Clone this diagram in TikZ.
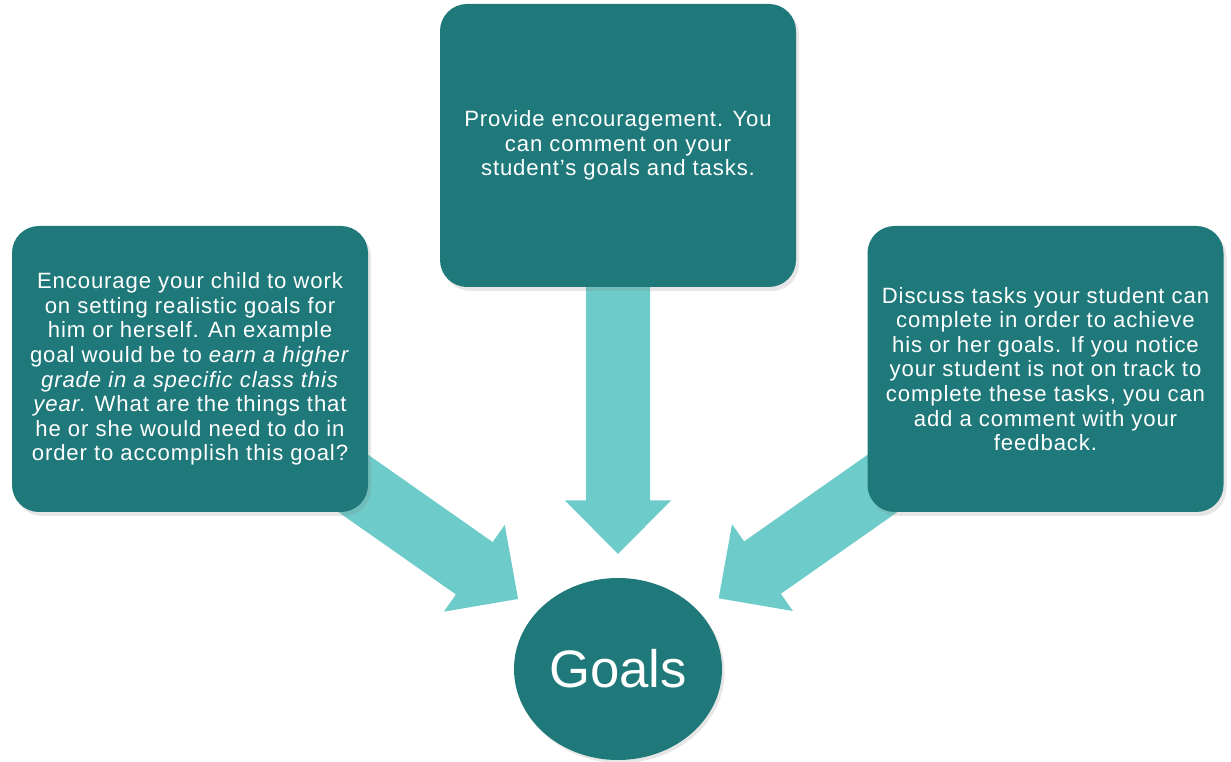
\documentclass[tikz,border=0pt]{standalone}
\usepackage{fontspec}
\setmainfont{Liberation Sans}
\newfontfamily\boxfont{Liberation Sans}[LetterSpace=4]
\usetikzlibrary{calc,shapes.geometric,shadows,backgrounds}
\definecolor{darkteal}{RGB}{31,120,121}
\definecolor{lightteal}{RGB}{109,203,202}
\begin{document}
\begin{tikzpicture}[line join=round, >=stealth,
	infobox/.style={draw=none, fill=darkteal, text=white, rounded corners=0.54cm, align=center, inner sep=0pt, minimum width=7.12cm, minimum height=5.72cm, font=\boxfont\fontsize{12.6}{14}\selectfont, drop shadow={shadow xshift=0.06cm, shadow yshift=-0.08cm, opacity=0.2}},
	goalnode/.style={ellipse, draw=none, fill=darkteal, text=white, inner sep=0pt, minimum width=4.16cm, minimum height=3.64cm, font=\fontsize{30}{34}\selectfont, drop shadow={shadow xshift=0.05cm, shadow yshift=-0.06cm, opacity=0.2}},
	arrowfill/.style={fill=lightteal}]
	\useasboundingbox (0,0) rectangle (24.62,15.24);
	\def\shaftw{0.64cm}\def\headw{1.06cm}\def\headl{1.07cm}
	\node[infobox] (lbox) at (3.80,7.86) {Encourage your child to work\\on setting realistic goals for\\him or herself. An example\\goal would be to \textit{earn a higher}\\\textit{grade in a specific class this}\\\textit{year}. What are the things that\\he or she would need to do in\\order to accomplish this goal?};
	\node[infobox, minimum height=5.66cm] (tbox) at (12.36,12.33) {Provide encouragement. You\\can comment on your\\student’s goals and tasks.};
	\node[infobox] (rbox) at (20.91,7.86) {Discuss tasks your student can\\complete in order to achieve\\his or her goals. If you notice\\your student is not on track to\\complete these tasks, you can\\add a comment with your\\feedback.};
	\node[goalnode] (goals) at (12.36,1.86) {Goals};
	\begin{scope}[on background layer]
		\foreach \src/\gap in {lbox/2.44, tbox/2.30, rbox/2.46}{
			\coordinate (tip) at ($(goals.center)!\gap cm!(\src.center)$);
			\coordinate (base) at ($(tip)!\headl!(\src.center)$);
			\fill[arrowfill] ($(\src.center)!\shaftw!90:(tip)$) -- ($(base)!\shaftw!90:(tip)$) -- ($(base)!\headw!90:(tip)$) -- (tip) -- ($(base)!\headw!-90:(tip)$) -- ($(base)!\shaftw!-90:(tip)$) -- ($(\src.center)!\shaftw!-90:(tip)$) -- cycle;
		}
	\end{scope}
\end{tikzpicture}
\end{document}
